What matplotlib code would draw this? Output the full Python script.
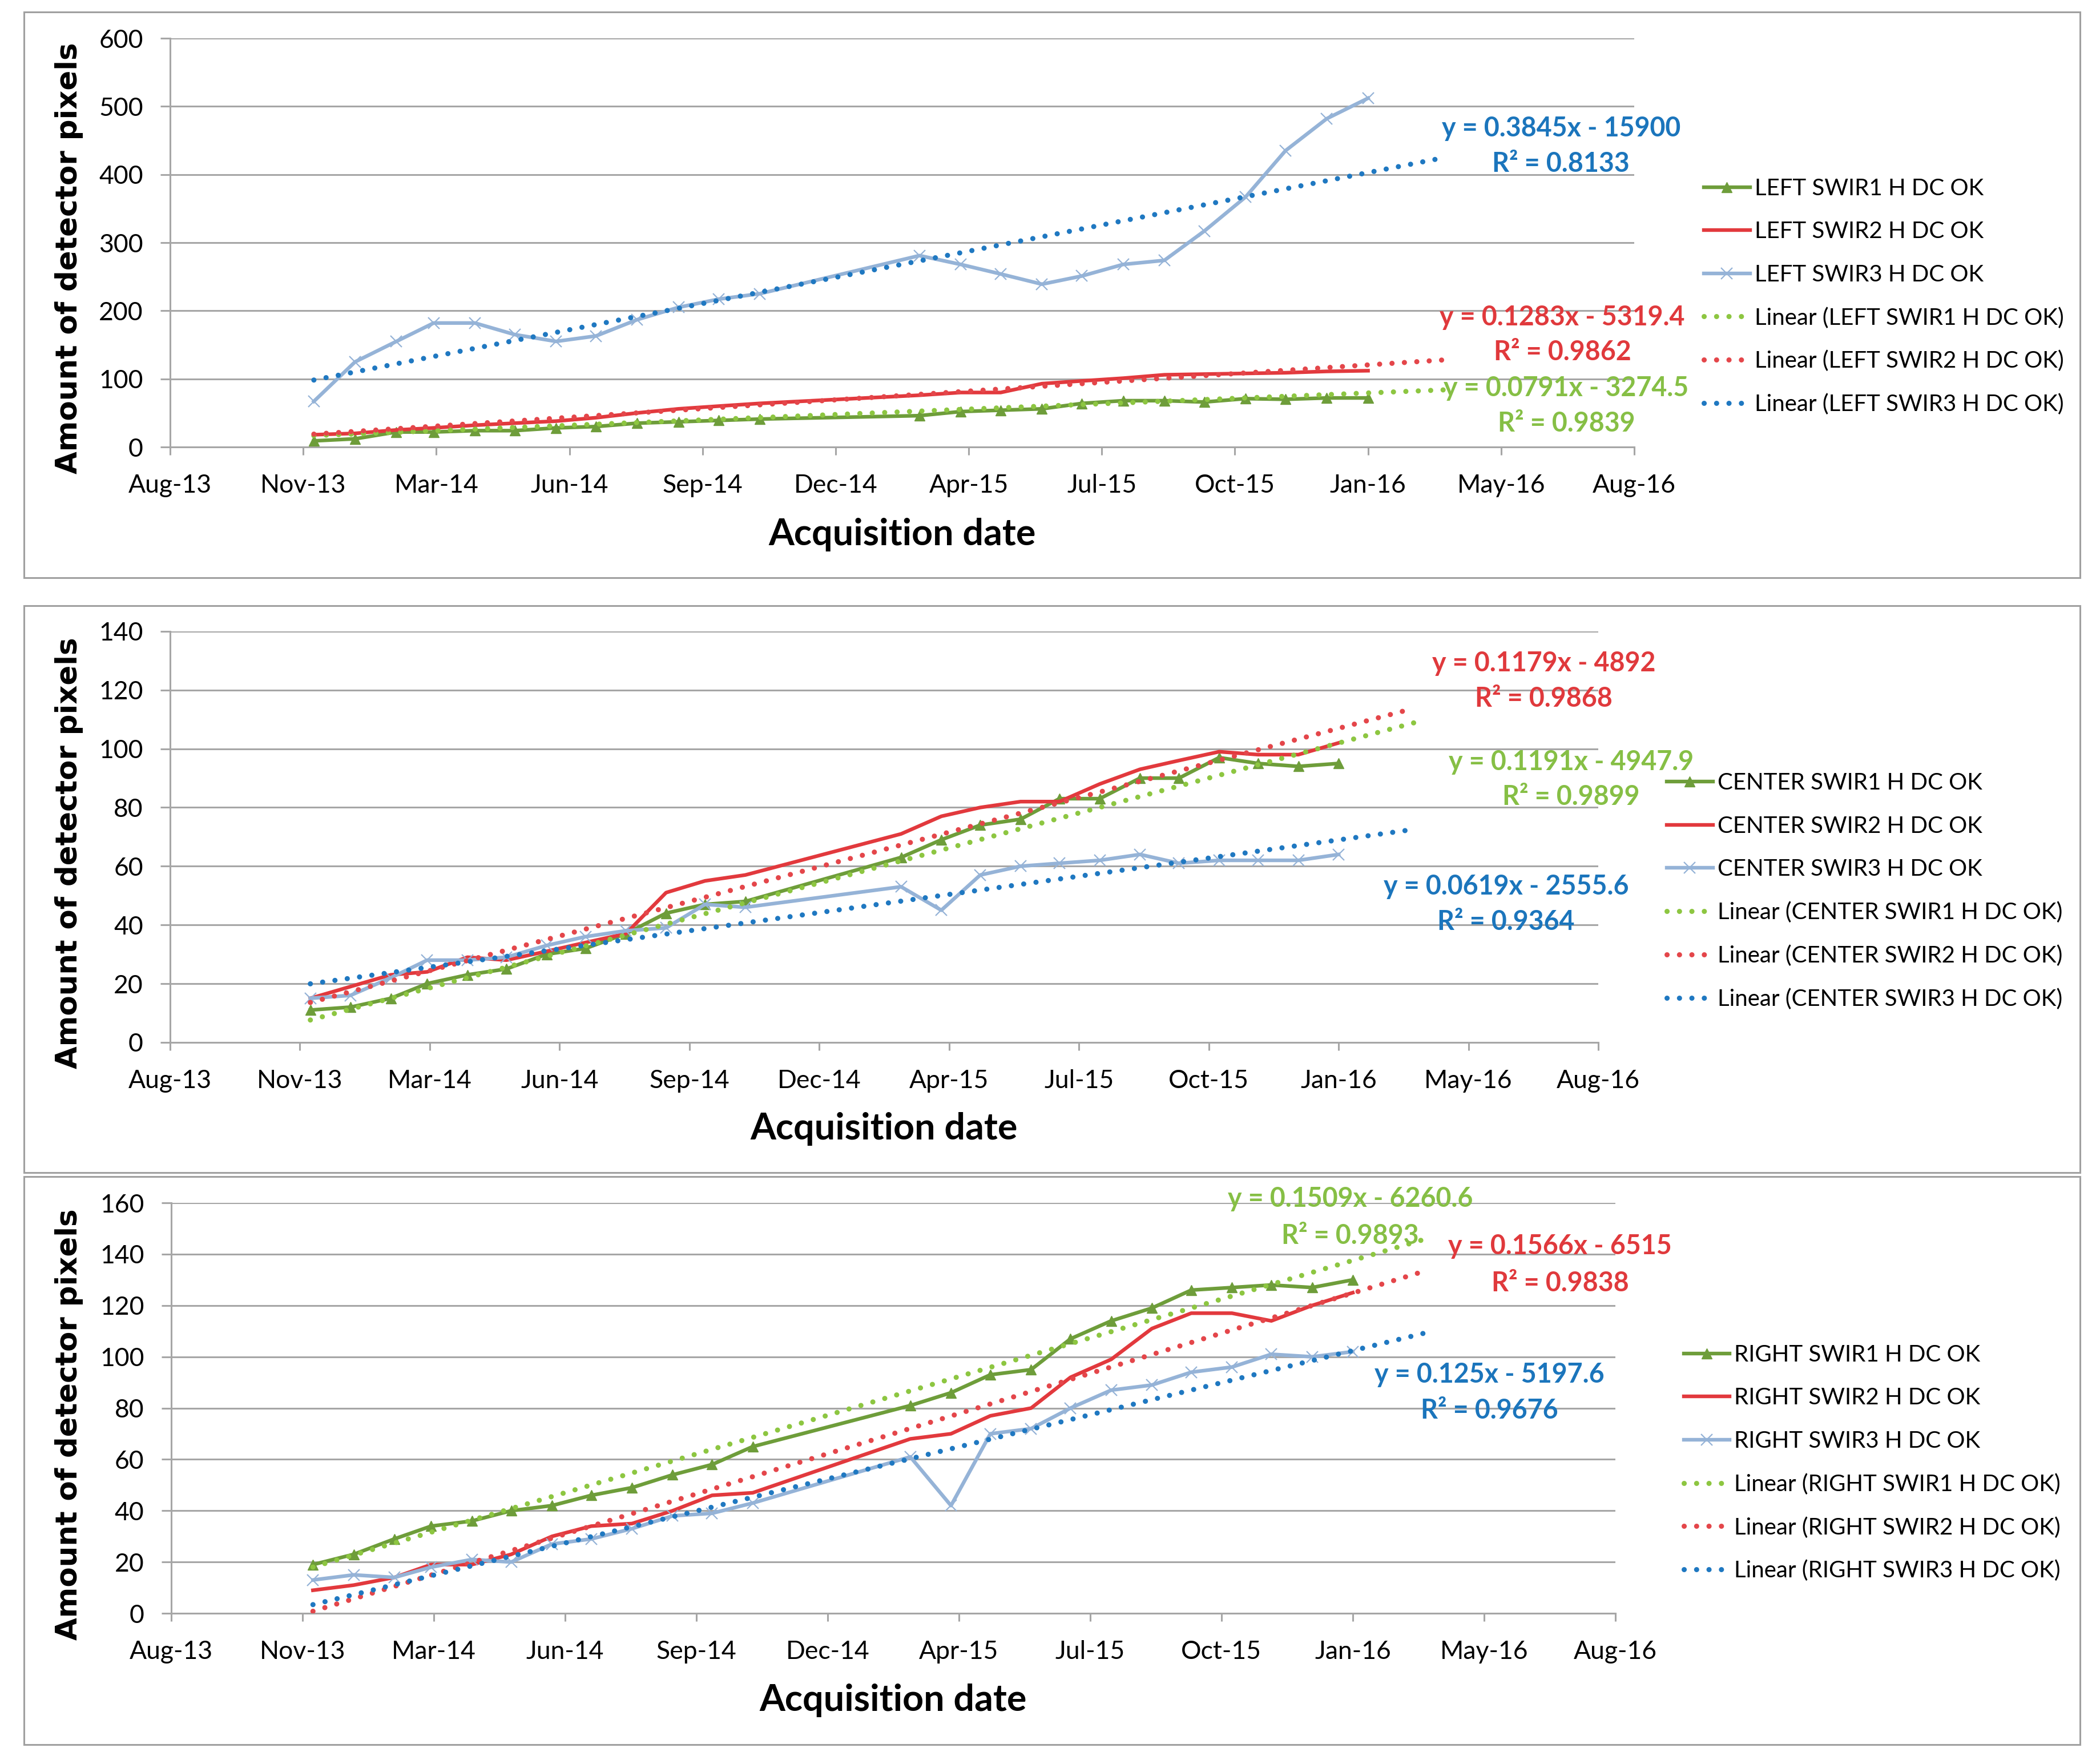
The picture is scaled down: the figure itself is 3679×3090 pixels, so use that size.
import pandas as pd
import matplotlib
matplotlib.use('Agg')
import matplotlib.pyplot as plt
from matplotlib.ticker import FuncFormatter, MultipleLocator
from matplotlib.patches import Rectangle

plt.rcParams['font.family'] = ['Lato', 'DejaVu Sans']

# acquisition dates (month ends, no data Nov-14 .. Jan-15)
dates = ['2013-11-30', '2013-12-31', '2014-01-31', '2014-02-28', '2014-03-31', '2014-04-30',
         '2014-05-31', '2014-06-30', '2014-07-31', '2014-08-31', '2014-09-30', '2014-10-31',
         '2015-02-28', '2015-03-31', '2015-04-30', '2015-05-31', '2015-06-30', '2015-07-31',
         '2015-08-31', '2015-09-30', '2015-10-31', '2015-11-30', '2015-12-31', '2016-01-31']

left_swir1 = [9, 12, 22, 22, 24, 24, 28, 30, 35, 37, 39, 41, 46, 52, 54, 56, 64, 68, 68, 66, 71, 70, 72, 72]
left_swir2 = [18, 20, 25, 28, 32, 35, 38, 43, 50, 56, 60, 64, 76, 80, 80, 93, 97, 101, 106, 107, 108, 109, 111, 112]
left_swir3 = [67, 125, 155, 182, 182, 165, 155, 163, 187, 205, 217, 225, 281, 268, 254, 239, 251, 268, 274, 317, 367, 435, 482, 512]

center_swir1 = [11, 12, 15, 20, 23, 25, 30, 32, 37, 44, 47, 48, 63, 69, 74, 76, 83, 83, 90, 90, 97, 95, 94, 95]
center_swir2 = [15, 19, 23, 24, 29, 28, 31, 34, 37, 51, 55, 57, 71, 77, 80, 82, 82, 88, 93, 96, 99, 98, 98, 102]
center_swir3 = [15, 16, 22, 28, 28, 29, 33, 36, 38, 39, 47, 46, 53, 45, 57, 60, 61, 62, 64, 61, 62, 62, 62, 64]

right_swir1 = [19, 23, 29, 34, 36, 40, 42, 46, 49, 54, 58, 65, 81, 86, 93, 95, 107, 114, 119, 126, 127, 128, 127, 130]
right_swir2 = [9, 11, 14, 19, 19, 23, 30, 34, 35, 40, 46, 47, 68, 70, 77, 80, 92, 99, 111, 117, 117, 114, 120, 125]
right_swir3 = [13, 15, 14, 18, 21, 20, 27, 29, 33, 38, 39, 43, 61, 42, 70, 72, 80, 87, 89, 94, 96, 101, 100, 102]

# trendline coefficients (x in Excel date serials) and R^2, as printed on the chart
left_fit = [(0.0791, -3274.5, 0.9839), (0.1283, -5319.4, 0.9862), (0.3845, -15900, 0.8133)]
center_fit = [(0.1191, -4947.9, 0.9899), (0.1179, -4892, 0.9868), (0.0619, -2555.6, 0.9364)]
right_fit = [(0.1509, -6260.6, 0.9893), (0.1566, -6515, 0.9838), (0.125, -5197.6, 0.9676)]

EXCEL0 = pd.Timestamp('1899-12-30')
xs = [(pd.Timestamp(d) - EXCEL0).days for d in dates]
forecast_days = 58

GREEN, RED, LBLUE = '#6E9D3A', '#E2393D', '#95B3D7'
TREND = ['#8DC641', '#E4464A', '#1F78C1']
EQ_COL = ['#86BF45', '#E0393C', '#1B75BC']
GRID = '#A6A6A6'


def date_fmt(v, pos):
    return (EXCEL0 + pd.Timedelta(days=v)).strftime('%b-%y')


fig = plt.figure(figsize=(36.79, 30.90), dpi=100)

panels = [
    dict(name='LEFT', series=[left_swir1, left_swir2, left_swir3], fit=left_fit,
         rect=[0.0810, 0.7466, 0.6972, 0.2317], ymax=600, ystep=100,
         eq=[(42549, 86, 34), (42546, 190, 139), (42545, 468, 416)],
         leg=(0.8114, 0.8990), frame=(0.6725, 0.9932),
         ylab=(0.0329, 0.8537), xlab=0.6968),
    dict(name='CENTER', series=[center_swir1, center_swir2, center_swir3], fit=center_fit,
         rect=[0.0810, 0.4091, 0.6801, 0.2330], ymax=140, ystep=20,
         eq=[(42579, 95.5, 83.6), (42558, 129, 117), (42529, 53, 41)],
         leg=(0.7937, 0.5620), frame=(0.3353, 0.6566),
         ylab=(0.0329, 0.5165), xlab=0.3599),
    dict(name='RIGHT', series=[right_swir1, right_swir2, right_swir3], fit=right_fit,
         rect=[0.0815, 0.0854, 0.6877, 0.2327], ymax=160, ystep=20,
         eq=[(42398, 161.5, 147), (42558, 143, 128.6), (42504, 93, 79)],
         leg=(0.8018, 0.2378), frame=(0.0110, 0.3330),
         ylab=(0.0329, 0.1926), xlab=0.0362),
]

for p in panels:
    fy0, fy1 = p['frame']
    fig.add_artist(Rectangle((0.0114, fy0), 0.9791, fy1 - fy0, transform=fig.transFigure,
                             fill=False, ec='#A0A0A0', lw=2.2))

    ax = fig.add_axes(p['rect'])
    s1, s2, s3 = p['series']
    handles = []
    h1, = ax.plot(xs, s1, color=GREEN, lw=4.6, marker='^', ms=13, mec=GREEN, mfc=GREEN, zorder=3)
    h2, = ax.plot(xs, s2, color=RED, lw=4.6, zorder=3)
    h3, = ax.plot(xs, s3, color=LBLUE, lw=4.6, marker='x', ms=15, mew=1.6, mec=LBLUE, zorder=3)
    handles += [h1, h2, h3]
    names = ['%s SWIR%d H DC OK' % (p['name'], i + 1) for i in range(3)]

    x0, x1 = xs[0], xs[-1] + forecast_days
    for i, (a, b, r2) in enumerate(p['fit']):
        h, = ax.plot([x0, x1], [a * x0 + b, a * x1 + b], color=TREND[i], lw=6.5,
                     ls=(0, (0.01, 2.4)), dash_capstyle='round', zorder=4)
        handles.append(h)
        ex, ey, ry = p['eq'][i]
        ax.text(ex, ey, 'y = %gx - %g' % (a, -b), color=EQ_COL[i], fontsize=33.5,
                fontweight='bold', ha='center', va='center', zorder=5)
        ax.text(ex, ry, 'R\u00b2 = %.4f' % r2, color=EQ_COL[i], fontsize=33.5,
                fontweight='bold', ha='center', va='center', zorder=5)
    labels = names + ['Linear (%s)' % n for n in names]

    ax.set_xlim(41500, 42600)
    ax.set_ylim(0, p['ymax'])
    ax.xaxis.set_major_locator(MultipleLocator(100))
    ax.xaxis.set_major_formatter(FuncFormatter(date_fmt))
    ax.yaxis.set_major_locator(MultipleLocator(p['ystep']))
    ax.grid(axis='y', color=GRID, lw=2.2)
    ax.set_axisbelow(True)
    for sp in ['top', 'right']:
        ax.spines[sp].set_visible(False)
    for sp in ['left', 'bottom']:
        ax.spines[sp].set_color(GRID)
        ax.spines[sp].set_linewidth(2.2)
    ax.tick_params(axis='x', direction='out', length=10, width=2.2, color=GRID,
                   labelsize=32, pad=24)
    ax.tick_params(axis='y', direction='out', length=12, width=2.2, color=GRID,
                   labelsize=32, pad=22)

    fig.text(p['ylab'][0], p['ylab'][1], 'Amount of detector pixels', rotation=90,
             ha='center', va='center', fontsize=37, fontweight='bold', family='DejaVu Sans')
    fig.text(p['rect'][0] + p['rect'][2] / 2, p['xlab'], 'Acquisition date',
             ha='center', va='center', fontsize=46.5, fontweight='bold')

    fig.legend(handles, labels, loc='upper left', bbox_to_anchor=p['leg'],
               bbox_transform=fig.transFigure, frameon=False, fontsize=29,
               borderpad=0, borderaxespad=0, handlelength=2.0, handletextpad=0.2,
               labelspacing=0.95, numpoints=1)

fig.savefig('out.png', dpi=100, facecolor='white')
